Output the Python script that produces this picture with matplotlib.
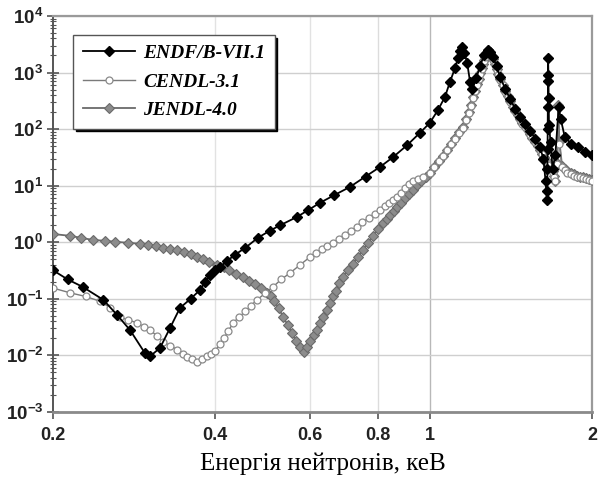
import matplotlib
matplotlib.use("Agg")
import matplotlib.pyplot as plt
from matplotlib.ticker import FixedLocator, FixedFormatter, NullLocator, LogLocator

plt.rcParams['font.family'] = ['Liberation Sans', 'DejaVu Sans']
plt.rcParams['mathtext.fontset'] = 'custom'
plt.rcParams['mathtext.rm'] = 'Liberation Sans'
plt.rcParams['mathtext.bf'] = 'Liberation Sans:bold'

# --- cross-section data, energy in keV ---
endf_e = [0.2, 0.213, 0.227, 0.248, 0.263, 0.278, 0.296, 0.303, 0.316, 0.330,
          0.344, 0.36, 0.375, 0.383, 0.391, 0.40, 0.408, 0.42, 0.435, 0.455,
          0.48, 0.505, 0.528, 0.567, 0.595, 0.626, 0.665, 0.711, 0.76, 0.809,
          0.855, 0.908, 0.959, 1.0, 1.036, 1.067, 1.09, 1.114, 1.128, 1.138,
          1.148, 1.16, 1.173, 1.188, 1.20, 1.22, 1.24, 1.26, 1.28, 1.295,
          1.31, 1.33, 1.35, 1.38, 1.409, 1.44, 1.47, 1.50, 1.535, 1.57,
          1.60, 1.625, 1.64, 1.65, 1.652, 1.653, 1.654, 1.655, 1.656, 1.657,
          1.658, 1.660, 1.662, 1.664, 1.675, 1.69, 1.71, 1.735, 1.75, 1.78,
          1.83, 1.88, 1.94, 2.0]
endf_v = [0.32, 0.22, 0.163, 0.096, 0.052, 0.028, 0.0111, 0.0097, 0.0136, 0.031,
          0.069, 0.10, 0.144, 0.2, 0.265, 0.32, 0.367, 0.46, 0.6, 0.8,
          1.2, 1.6, 2.0, 2.8, 3.7, 5.0, 6.8, 9.5, 14.5, 21.5,
          32, 52, 86, 128, 218, 370, 680, 1200, 1800, 2400,
          2800, 2200, 1500, 680, 520, 800, 1300, 2000, 2500, 2300,
          1900, 1300, 840, 520, 340, 230, 165, 125, 93, 68,
          49, 30, 12, 5.5, 8, 20, 45, 100, 250, 700,
          1800, 900, 350, 120, 60, 20, 35, 250, 150, 73,
          55, 48, 40, 35]

cendl_e = [0.2, 0.215, 0.23, 0.245, 0.255, 0.266, 0.276, 0.286, 0.295, 0.303,
           0.312, 0.32, 0.33, 0.34, 0.348, 0.355, 0.362, 0.37, 0.378, 0.386,
           0.393, 0.40, 0.408, 0.415, 0.423, 0.432, 0.443, 0.455, 0.466, 0.478,
           0.495, 0.512, 0.53, 0.551, 0.575, 0.60, 0.615, 0.63, 0.645, 0.662,
           0.678, 0.695, 0.713, 0.733, 0.75, 0.77, 0.79, 0.809, 0.825, 0.84,
           0.855, 0.87, 0.885, 0.90, 0.915, 0.931, 0.95, 0.972, 1.0, 1.02,
           1.04, 1.06, 1.077, 1.095, 1.115, 1.135, 1.153, 1.168, 1.18, 1.192,
           1.203, 1.214, 1.224, 1.232, 1.24, 1.248, 1.255, 1.261, 1.267, 1.274,
           1.28, 1.288, 1.295, 1.303, 1.31, 1.32, 1.33, 1.34, 1.35, 1.365,
           1.38, 1.395, 1.409, 1.425, 1.44, 1.455, 1.47, 1.485, 1.50, 1.52,
           1.535, 1.55, 1.57, 1.585, 1.60, 1.615, 1.63, 1.645, 1.66, 1.675,
           1.69, 1.70, 1.71, 1.725, 1.73, 1.74, 1.76, 1.78, 1.80, 1.825,
           1.85, 1.875, 1.90, 1.925, 1.95, 1.975, 2.0]
cendl_v = [0.155, 0.128, 0.11, 0.09, 0.07, 0.048, 0.042, 0.038, 0.032, 0.028,
           0.022, 0.0174, 0.0148, 0.0127, 0.0108, 0.0095, 0.0085, 0.0078, 0.0085, 0.0097,
           0.0108, 0.012, 0.016, 0.02, 0.027, 0.0377, 0.048, 0.06, 0.076, 0.096,
           0.125, 0.163, 0.22, 0.288, 0.40, 0.552, 0.65, 0.75, 0.86, 0.976,
           1.15, 1.35, 1.6, 1.87, 2.25, 2.7, 3.2, 3.74, 4.3, 5.0,
           5.6, 6.3, 7.5, 9.0, 10.5, 12, 13.2, 14.3, 17, 21,
           27, 34, 42, 54, 68, 86, 105, 145, 190, 260,
           360, 470, 600, 760, 950, 1150, 1350, 1600, 1850, 2100,
           2400, 2300, 2150, 1900, 1650, 1350, 1100, 900, 750, 590,
           460, 370, 300, 245, 205, 170, 145, 125, 108, 92,
           80, 69, 58, 50, 42, 36, 31, 27, 23, 20,
           17, 14, 12, 24, 260, 55, 21, 19, 17, 16,
           15, 14.5, 14, 13.5, 13, 12.5, 12]

jendl_e = [0.2, 0.215, 0.225, 0.237, 0.25, 0.261, 0.275, 0.29, 0.30, 0.31,
           0.32, 0.33, 0.34, 0.35, 0.36, 0.37, 0.38, 0.39, 0.403, 0.415,
           0.425, 0.437, 0.45, 0.462, 0.475, 0.487, 0.499, 0.507, 0.515, 0.525,
           0.534, 0.545, 0.555, 0.565, 0.575, 0.585, 0.593, 0.60, 0.61, 0.618,
           0.627, 0.635, 0.644, 0.653, 0.662, 0.67, 0.68, 0.69, 0.705, 0.72,
           0.735, 0.752, 0.768, 0.785, 0.80, 0.819, 0.832, 0.845, 0.858, 0.87,
           0.885, 0.90, 0.915, 0.931, 0.948, 0.965, 0.982, 1.0, 1.02, 1.04,
           1.06, 1.077, 1.095, 1.115, 1.135, 1.153, 1.168, 1.18, 1.192, 1.203,
           1.214, 1.224, 1.232, 1.24, 1.248, 1.255, 1.261, 1.267, 1.274, 1.282,
           1.288, 1.295, 1.303, 1.31, 1.32, 1.33, 1.34, 1.35, 1.365, 1.38,
           1.395, 1.409, 1.425, 1.44, 1.455, 1.47, 1.485, 1.50, 1.52, 1.535,
           1.55, 1.57, 1.585, 1.60, 1.615, 1.63, 1.645, 1.66, 1.675, 1.69,
           1.70, 1.71, 1.725, 1.73, 1.74, 1.76, 1.78, 1.80, 1.825, 1.85,
           1.875, 1.90, 1.925, 1.95, 1.975, 2.0]
jendl_v = [1.4, 1.3, 1.2, 1.1, 1.06, 1.02, 0.98, 0.94, 0.9, 0.85,
           0.8, 0.76, 0.72, 0.67, 0.62, 0.56, 0.5, 0.45, 0.40, 0.36,
           0.32, 0.28, 0.245, 0.21, 0.18, 0.155, 0.128, 0.11, 0.09, 0.068,
           0.048, 0.035, 0.025, 0.018, 0.0142, 0.0115, 0.014, 0.018, 0.023, 0.028,
           0.037, 0.048, 0.064, 0.085, 0.11, 0.14, 0.19, 0.245, 0.32, 0.42,
           0.55, 0.73, 0.98, 1.3, 1.7, 2.2, 2.6, 3.0, 3.6, 4.2,
           5.0, 6.0, 7.2, 8.5, 10.2, 12, 14.2, 16.8, 21, 27,
           34, 43, 55, 70, 88, 110, 150, 200, 270, 370,
           480, 620, 780, 980, 1180, 1400, 1650, 1890, 2200, 2500,
           2350, 2200, 1950, 1700, 1400, 1150, 950, 780, 610, 480,
           380, 310, 250, 210, 175, 150, 128, 112, 96, 82,
           71, 60, 51, 43, 37, 32, 28, 24, 21, 18,
           15, 12, 25, 270, 60, 22, 20, 18, 17, 16,
           15, 14.5, 14, 13.5, 13, 12.6]

x_ticks = [0.2, 0.4, 0.6, 0.8, 1, 2]
x_labels = ['0.2', '0.4', '0.6', '0.8', '1', '2']
y_ticks = [1e-3, 1e-2, 1e-1, 1e0, 1e1, 1e2, 1e3, 1e4]
y_labels = [r'$\mathbf{10^{-3}}$', r'$\mathbf{10^{-2}}$', r'$\mathbf{10^{-1}}$',
            r'$\mathbf{10^{0}}$', r'$\mathbf{10^{1}}$', r'$\mathbf{10^{2}}$',
            r'$\mathbf{10^{3}}$', r'$\mathbf{10^{4}}$']

fig = plt.figure(figsize=(6.0, 4.83), dpi=100)
ax = fig.add_axes([0.0883, 0.147, 0.8984, 0.820])

l_j, = ax.plot(jendl_e, jendl_v, color='#6a6a6a', lw=1.3, marker='D', ms=5,
               mfc='#8c8c8c', mec='#6a6a6a', mew=0.8, zorder=3, label='JENDL-4.0')
l_c, = ax.plot(cendl_e, cendl_v, color='#7a7a7a', lw=1.0, marker='o', ms=5,
               mfc='white', mec='#8a8a8a', mew=0.9, zorder=4, label='CENDL-3.1')
l_e, = ax.plot(endf_e, endf_v, color='black', lw=1.3, marker='D', ms=5.5,
               mfc='black', mec='black', zorder=5, label='ENDF/B-VII.1')

ax.set_xscale('log')
ax.set_yscale('log')
ax.set_xlim(0.2, 2)
ax.set_ylim(1e-3, 1e4)

ax.xaxis.set_major_locator(FixedLocator(x_ticks))
ax.xaxis.set_major_formatter(FixedFormatter(x_labels))
ax.xaxis.set_minor_locator(NullLocator())
ax.yaxis.set_major_locator(FixedLocator(y_ticks))
ax.yaxis.set_major_formatter(FixedFormatter(y_labels))
ax.yaxis.set_minor_locator(LogLocator(base=10, subs=[2, 3, 4, 5, 6, 7, 8, 9], numticks=20))

for lbl in ax.get_xticklabels():
    lbl.set_fontweight('bold')
ax.tick_params(axis='x', which='major', direction='out', length=5, width=1.2,
               color='#555555', labelsize=13, pad=6, labelcolor='#222222')
ax.tick_params(axis='y', which='major', direction='inout', length=8, width=1.2,
               color='#555555', labelsize=13.5, pad=3, labelcolor='#222222')
ax.tick_params(axis='y', which='minor', direction='inout', length=4, width=0.8,
               color='#555555')

# grid: decades horizontally, vertical lines at the labelled energies
ax.grid(True, which='major', axis='y', color='#cfcfcf', lw=1.0, zorder=0)
for xv, col in [(0.4, '#e2e2e2'), (0.6, '#e2e2e2'), (0.8, '#dcdcdc'), (1.0, '#b8b8b8')]:
    ax.axvline(xv, color=col, lw=1.0, zorder=0)

ax.spines['left'].set_color('#555555')
ax.spines['left'].set_linewidth(1.4)
ax.spines['bottom'].set_color('#8a8a8a')
ax.spines['bottom'].set_linewidth(2.0)
ax.spines['top'].set_color('#9a9a9a')
ax.spines['top'].set_linewidth(1.6)
ax.spines['right'].set_color('#9a9a9a')
ax.spines['right'].set_linewidth(1.6)

ax.set_xlabel('Енергія нейтронів, кеВ', fontfamily=['Liberation Serif', 'DejaVu Serif'],
              fontsize=18, labelpad=6)

leg = ax.legend(handles=[l_e, l_c, l_j], loc='upper left',
                bbox_to_anchor=(0.037, 0.952), borderaxespad=0,
                prop={'family': 'Liberation Serif', 'weight': 'bold',
                      'style': 'italic', 'size': 14},
                handlelength=2.7, handletextpad=0.4, labelspacing=0.55,
                borderpad=0.5, fancybox=False, framealpha=1,
                shadow={'color': 'black', 'alpha': 1})
leg.get_frame().set_edgecolor('#555555')
leg.get_frame().set_linewidth(1.0)
leg.set_zorder(10)

fig.savefig('out.png', dpi=100)
